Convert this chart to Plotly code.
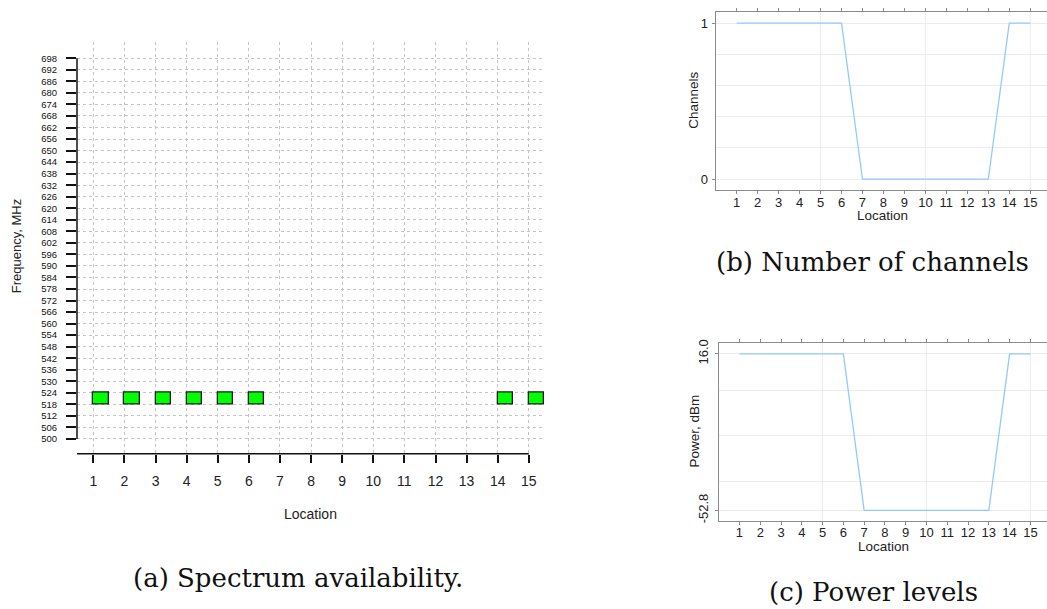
import plotly.graph_objects as go

W, H = 1047, 609

# ---------------- data ----------------
locations = [1, 2, 3, 4, 5, 6, 7, 8, 9, 10, 11, 12, 13, 14, 15]
location_labels = [str(v) for v in locations]
freq_ticks = [500, 506, 512, 518, 524, 530, 536, 542, 548, 554, 560, 566,
              572, 578, 584, 590, 596, 602, 608, 614, 620, 626, 632, 638,
              644, 650, 656, 662, 668, 674, 680, 686, 692, 698]
avail_locations = [1, 2, 3, 4, 5, 6, 14, 15]
chan_low = [518, 518, 518, 518, 518, 518, 518, 518]
chan_high = [524, 524, 524, 524, 524, 524, 524, 524]
channels = [1, 1, 1, 1, 1, 1, 0, 0, 0, 0, 0, 0, 0, 1, 1]
power = [16.0, 16.0, 16.0, 16.0, 16.0, 16.0, -52.8, -52.8, -52.8, -52.8,
         -52.8, -52.8, -52.8, 16.0, 16.0]
chan_ticks = [0, 1]
chan_minor = [0.2, 0.4, 0.6, 0.8]
power_ticks = [-52.8, 16.0]
power_grid = [-40, -20, 0]
right_vgrid = [5, 10, 15]


def fx(px):
    return px / W


def fy(py):
    return 1 - py / H


XR_A = [0.476, 15.52]
YR_A = [492.3, 706.7]
XR_R = [0, 15.8]
YR_B = [-0.07, 1.07]
YR_C = [-57.3, 20.6]

LINE_BLUE = "#93C8FF"
BORDER = "#8a8a8a"
GRID = "#ececec"
SANS = "Liberation Sans, Arial, sans-serif"
SERIF = "DejaVu Serif, serif"

fig = go.Figure()

# (a) spectrum availability
fig.add_trace(go.Bar(
    x=avail_locations,
    y=[h - l for h, l in zip(chan_high, chan_low)],
    base=chan_low, width=0.5, offset=0,
    marker=dict(color="#00FF00", line=dict(color="#1a1a1a", width=1.3)),
    xaxis="x", yaxis="y", showlegend=False, hoverinfo="skip"))

# (b) number of channels
fig.add_trace(go.Scatter(
    x=locations, y=channels, mode="lines",
    line=dict(color=LINE_BLUE, width=1.3),
    xaxis="x2", yaxis="y2", showlegend=False))

# (c) power levels
fig.add_trace(go.Scatter(
    x=locations, y=power, mode="lines",
    line=dict(color=LINE_BLUE, width=1.3),
    xaxis="x3", yaxis="y3", showlegend=False))

common_r_x = dict(range=XR_R, tickvals=locations, ticktext=location_labels,
                  ticks="outside", ticklen=3, tickcolor=BORDER, tickwidth=1,
                  showgrid=False, zeroline=False,
                  showline=True, linecolor=BORDER, linewidth=1.2, mirror="ticks",
                  tickfont=dict(family=SANS, size=13, color="#222"),
                  ticklabelstandoff=-3)

fig.update_layout(
    width=W, height=H,
    margin=dict(l=0, r=0, t=0, b=0),
    paper_bgcolor="white", plot_bgcolor="rgba(0,0,0,0)",
    bargap=0,
    xaxis=dict(domain=[fx(77), fx(545)], range=XR_A, anchor="y",
               tickvals=locations, ticktext=location_labels,
               ticks="outside", ticklen=8, tickwidth=1.5, tickcolor="#111",
               showline=False, zeroline=False,
               showgrid=True, gridcolor="#c4c4c4", griddash="dot", gridwidth=1,
               tickfont=dict(family=SANS, size=14, color="#222"),
               ticklabelstandoff=6),
    yaxis=dict(domain=[fy(455), fy(38)], range=YR_A, anchor="x",
               tickvals=freq_ticks, ticktext=[str(v) for v in freq_ticks],
               ticks="outside", ticklen=10, tickwidth=1.5, tickcolor="#111",
               showline=False, zeroline=False,
               showgrid=True, gridcolor="#c4c4c4", griddash="dot", gridwidth=1,
               tickfont=dict(family=SANS, size=9.5, color="#111"),
               ticklabelstandoff=7),
    xaxis2=dict(domain=[fx(715.7), 1], anchor="y2", **common_r_x),
    yaxis2=dict(domain=[fy(188.3), fy(8.3)], range=YR_B, anchor="x2",
                tickvals=chan_ticks, ticktext=["0", "1"],
                ticks="outside", ticklen=3, tickcolor=BORDER, tickwidth=1,
                showline=True, linecolor=BORDER, linewidth=1.2,
                zeroline=False, showgrid=True, gridcolor=GRID,
                minor=dict(tickvals=chan_minor, showgrid=True, gridcolor=GRID),
                tickfont=dict(family=SANS, size=13, color="#222"),
                ticklabelstandoff=1),
    xaxis3=dict(domain=[fx(718.7), 1], anchor="y3", **common_r_x),
    yaxis3=dict(domain=[fy(522.7), fy(343.3)], range=YR_C, anchor="x3",
                tickvals=power_ticks, ticktext=["-52.8", "16.0"],
                ticks="outside", ticklen=3, tickcolor=BORDER, tickwidth=1,
                tickangle=-90,
                showline=True, linecolor=BORDER, linewidth=1.2,
                zeroline=False, showgrid=True, gridcolor=GRID,
                minor=dict(tickvals=power_grid, showgrid=True, gridcolor=GRID),
                tickfont=dict(family=SANS, size=13, color="#222"),
                ticklabelstandoff=1),
)

shapes = [
    # axis lines of (a)
    dict(type="line", xref="x domain", yref="y", x0=0, x1=0,
         y0=min(freq_ticks), y1=max(freq_ticks),
         line=dict(color="#111", width=1.5)),
    dict(type="line", xref="x", yref="y domain", x0=XR_A[0], x1=max(locations),
         y0=0, y1=0, line=dict(color="#111", width=1.5)),
]
for v in right_vgrid:
    shapes.append(dict(type="line", xref="x2", yref="y2 domain", x0=v, x1=v,
                       y0=0, y1=1, layer="below", line=dict(color=GRID, width=1)))
    shapes.append(dict(type="line", xref="x3", yref="y3 domain", x0=v, x1=v,
                       y0=0, y1=1, layer="below", line=dict(color=GRID, width=1)))
fig.update_layout(shapes=shapes)

ann = [
    dict(text="Frequency, MHz", x=fx(16), y=fy(245), textangle=-90,
         font=dict(family=SANS, size=13, color="#222")),
    dict(text="Location", x=fx(310), y=fy(516),
         font=dict(family=SANS, size=14, color="#222")),
    dict(text="Channels", x=fx(694), y=fy(98), textangle=-90,
         font=dict(family=SANS, size=13.5, color="#222")),
    dict(text="Location", x=fx(882.5), y=fy(214),
         font=dict(family=SANS, size=13.5, color="#222")),
    dict(text="Power, dBm", x=fx(695), y=fy(432.5), textangle=-90,
         font=dict(family=SANS, size=13.5, color="#222")),
    dict(text="Location", x=fx(883), y=fy(549),
         font=dict(family=SANS, size=13.5, color="#222")),
    dict(text="(a) Spectrum availability.", x=fx(297.5), y=fy(581),
         font=dict(family=SERIF, size=26, color="#111")),
    dict(text="(b) Number of channels", x=fx(872.5), y=fy(261),
         font=dict(family=SERIF, size=26, color="#111")),
    dict(text="(c) Power levels", x=fx(873.5), y=fy(595),
         font=dict(family=SERIF, size=26, color="#111")),
]
for a in ann:
    a.update(xref="paper", yref="paper", showarrow=False,
             xanchor="center", yanchor="middle")
fig.update_layout(annotations=ann)

fig.write_html("out.html")
